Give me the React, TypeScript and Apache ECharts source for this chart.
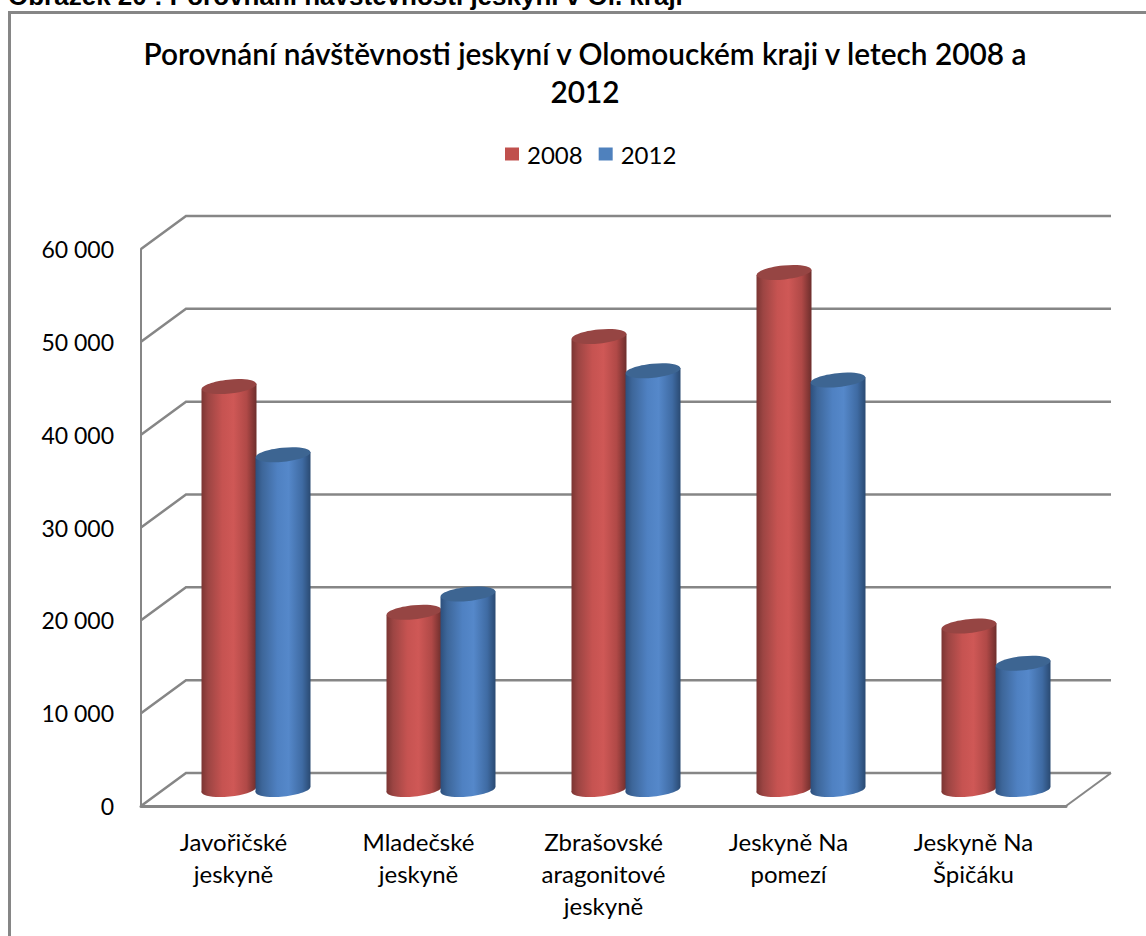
import React, { useEffect, useRef } from "react";
import * as echarts from "echarts";

const captionText = "Obrázek 20 : Porovnání návštěvnosti jeskyní v Ol. kraji";
const titleText = "Porovnání návštěvnosti jeskyní v Olomouckém kraji v letech 2008 a\n2012";
const categories = [
  "Javořičské\njeskyně",
  "Mladečské\njeskyně",
  "Zbrašovské\naragonitové\njeskyně",
  "Jeskyně Na\npomezí",
  "Jeskyně Na\nŠpičáku",
];
const values2008 = [43400, 19100, 48800, 55700, 17600];
const values2012 = [36050, 21050, 45100, 44100, 13600];
const yTicks = [0, 10000, 20000, 30000, 40000, 50000, 60000];
const yTickLabels = ["0", "10 000", "20 000", "30 000", "40 000", "50 000", "60 000"];

const FONT = "Lato";
const WALL = "#868686";
const DEPTH_X = 45;
const DEPTH_Y = 33;
const RX = 27.5;
const RY = 7;
const TILT = 0.1;

function shaft(stops: [number, string][]) {
  return new echarts.graphic.LinearGradient(
    0, 0, 1, 0,
    stops.map(([offset, color]) => ({ offset, color }))
  );
}

const redShaft: [number, string][] = [
  [0, "#7b3533"], [0.12, "#9c4543"], [0.38, "#c65351"], [0.58, "#cf5856"], [0.82, "#b04947"], [1, "#6d2e2c"],
];
const blueShaft: [number, string][] = [
  [0, "#2d4f7c"], [0.12, "#3d6699"], [0.4, "#4f81c2"], [0.6, "#5588ca"], [0.85, "#3f6ba3"], [1, "#2a4a72"],
];

// One cylinder standing half way into the floor; the shift moves it left or right of the band centre.
function cylinder(shift: number, stops: [number, string][], lid: string) {
  return (_params: any, api: any) => {
    const [bandX, topFront] = api.coord([api.value(0), api.value(1)]);
    const [, baseFront] = api.coord([api.value(0), 0]);
    const cx = bandX + DEPTH_X / 2 + shift;
    const topY = topFront - DEPTH_Y / 2;
    const baseY = baseFront - DEPTH_Y / 2;
    const lean = RX * Math.sin(TILT);
    const fill = shaft(stops);
    return {
      type: "group",
      children: [
        {
          type: "ellipse",
          x: cx,
          y: baseY,
          rotation: TILT,
          shape: { cx: 0, cy: 0, rx: RX, ry: RY },
          style: { fill },
        },
        {
          type: "polygon",
          shape: {
            points: [
              [cx - RX, topY + lean],
              [cx + RX, topY - lean],
              [cx + RX, baseY - lean],
              [cx - RX, baseY + lean],
            ],
          },
          style: { fill },
        },
        {
          type: "ellipse",
          x: cx,
          y: topY,
          rotation: TILT,
          shape: { cx: 0, cy: 0, rx: RX, ry: RY },
          style: { fill: lid },
        },
      ],
    };
  };
}

// Side wall diagonal and back wall line for a tick, plus the floor edge for the zero tick.
function wallLines(params: any, api: any) {
  const sys = params.coordSys;
  const [, y] = api.coord([0, api.value(1)]);
  const x0 = sys.x;
  const x1 = sys.x + sys.width;
  const lineStyle = { stroke: WALL, lineWidth: 2.5, fill: "none" };
  const children: any[] = [
    {
      type: "polyline",
      shape: { points: [[x0, y], [x0 + DEPTH_X, y - DEPTH_Y], [x1 + DEPTH_X, y - DEPTH_Y]] },
      style: lineStyle,
    },
  ];
  if (api.value(1) === 0) {
    children.push({
      type: "line",
      shape: { x1, y1: y, x2: x1 + DEPTH_X, y2: y - DEPTH_Y },
      style: { stroke: WALL, lineWidth: 2 },
    });
  }
  return { type: "group", children };
}

export default function App() {
  const ref = useRef<HTMLDivElement>(null);

  useEffect(() => {
    const chart = echarts.init(ref.current!, null, { renderer: "svg" });
    chart.setOption({
      animation: false,
      backgroundColor: "#ffffff",
      title: {
        text: titleText,
        left: 580,
        top: 29,
        textAlign: "center",
        textStyle: { fontFamily: FONT, fontSize: 29.8, fontWeight: 600, color: "#000000", lineHeight: 38 },
      },
      legend: {
        left: 500,
        top: 137,
        icon: "rect",
        itemWidth: 14,
        itemHeight: 13,
        itemGap: 16,
        data: ["2008", "2012"],
        textStyle: { fontFamily: FONT, fontSize: 24, color: "#000000", padding: [0, 0, 0, 3] },
      },
      grid: { left: 141, right: 80, top: 249, bottom: 130 },
      xAxis: {
        type: "category",
        data: categories,
        axisLine: { show: true, lineStyle: { color: WALL, width: 3 } },
        axisTick: { show: false },
        axisLabel: {
          interval: 0,
          margin: 19,
          fontFamily: FONT,
          fontSize: 24,
          lineHeight: 32,
          color: "#000000",
        },
      },
      yAxis: {
        type: "value",
        min: 0,
        max: 60000,
        interval: 10000,
        splitLine: { show: false },
        axisTick: { show: false },
        axisLine: { show: true, lineStyle: { color: WALL, width: 2 } },
        axisLabel: {
          margin: 27,
          fontFamily: FONT,
          fontSize: 23,
          color: "#000000",
          padding: [6, 0, 0, 0],
          formatter: (v: number) => yTickLabels[yTicks.indexOf(v)],
        },
      },
      series: [
        {
          type: "custom",
          name: "walls",
          silent: true,
          z: 1,
          renderItem: wallLines,
          encode: { x: 0, y: 1 },
          data: yTicks.map((v) => [0, v]),
        },
        {
          type: "custom",
          name: "2008",
          z: 2,
          itemStyle: { color: "#c0504d" },
          renderItem: cylinder(-27, redShaft, "#964543"),
          encode: { x: 0, y: 1 },
          data: values2008.map((v, i) => [i, v]),
        },
        {
          type: "custom",
          name: "2012",
          z: 3,
          itemStyle: { color: "#4f81bd" },
          renderItem: cylinder(27, blueShaft, "#3d6592"),
          encode: { x: 0, y: 1 },
          data: values2012.map((v, i) => [i, v]),
        },
      ],
      graphic: [
        {
          type: "polyline",
          shape: { points: [[9.5, 936], [9.5, 12.5], [1146, 12.5]] },
          style: { stroke: WALL, lineWidth: 3, fill: "none" },
        },
        {
          type: "text",
          x: 8,
          y: -17,
          style: {
            text: captionText,
            fontFamily: "Liberation Sans",
            fontWeight: "bold",
            fontSize: 26,
            fill: "#000000",
          },
        },
      ],
    });
    return () => chart.dispose();
  }, []);

  return <div ref={ref} style={{ position: "absolute", left: 0, top: 0, width: 1146, height: 936 }} />;
}
